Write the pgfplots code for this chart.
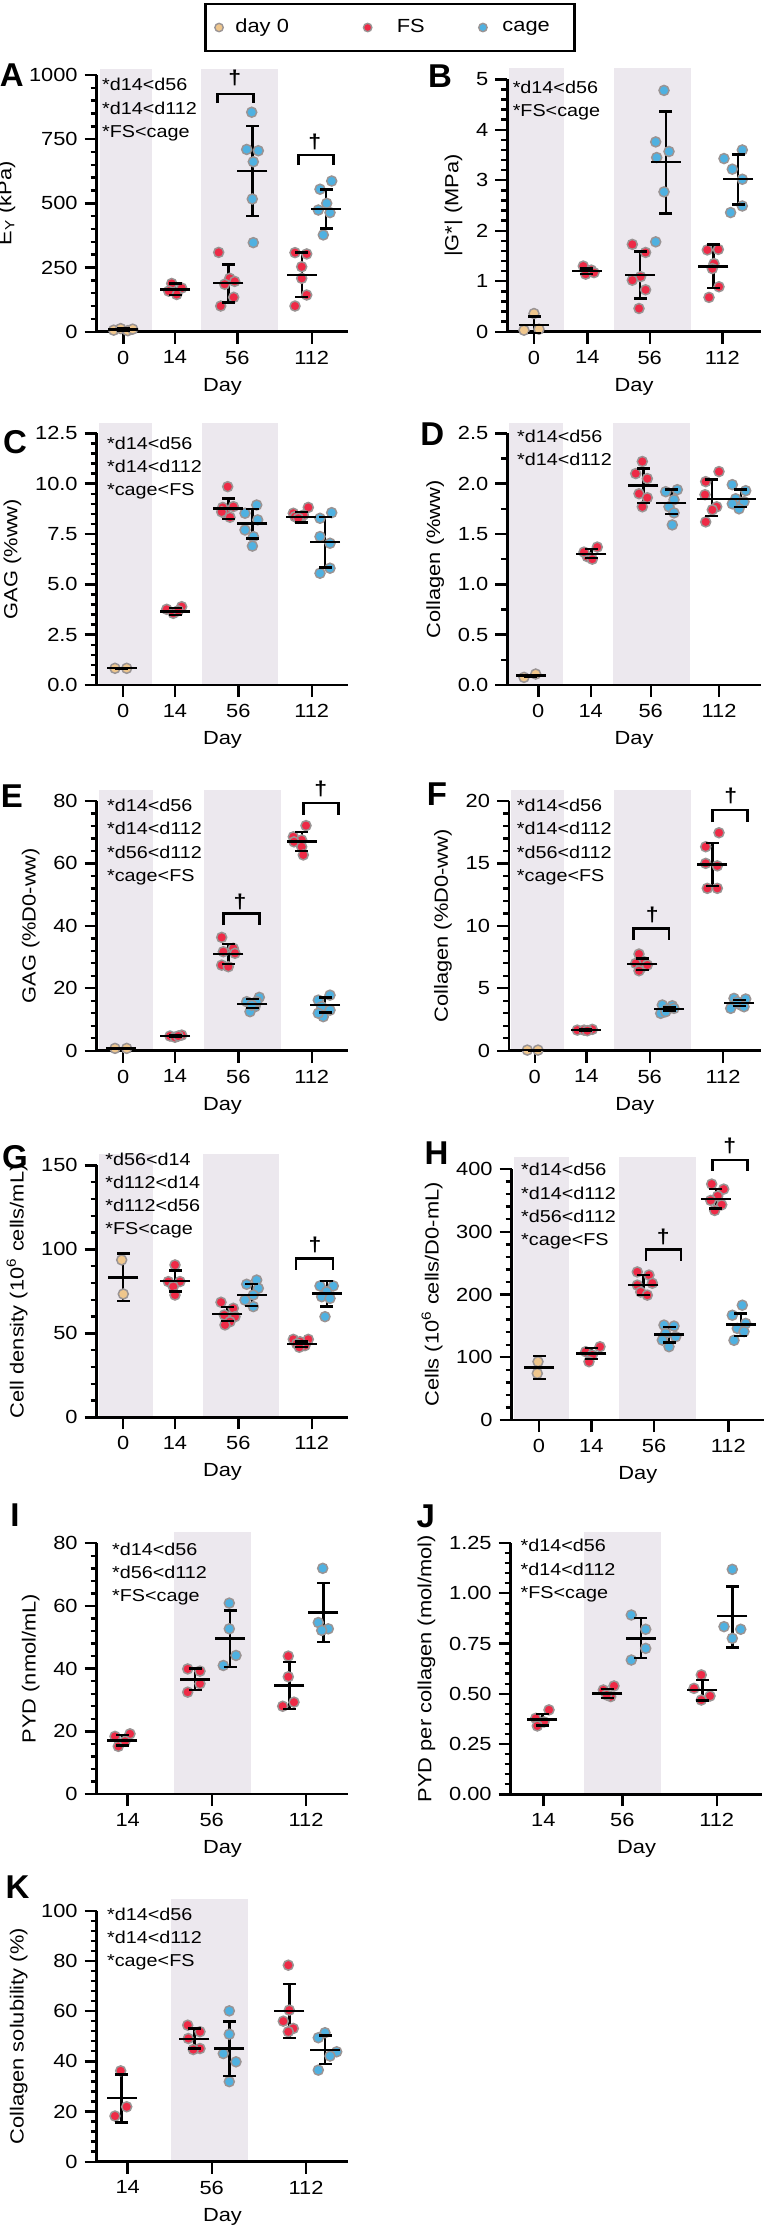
\documentclass[border=0pt]{standalone}
\usepackage{fontspec}
\setmainfont{Liberation Sans}[FakeStretch=1.15]
\newfontfamily\letterfont{Liberation Sans}
\usepackage{pgfplots}
\usepackage{pgfplotstable}
\pgfplotsset{compat=1.18}
\definecolor{cZero}{HTML}{EFC68C}
\definecolor{cFS}{HTML}{EE2A46}
\definecolor{cCage}{HTML}{4FB1E1}
\definecolor{cRing}{HTML}{9A9494}
\definecolor{cBand}{HTML}{ECE8EE}
\newcommand{\annfont}{\fontsize{8.6}{11.6}\selectfont}
\newcommand{\tickfont}{\fontsize{9.5}{11}\selectfont}
\newcommand{\ltrfont}{\letterfont\bfseries\fontsize{16.5}{17}\selectfont}
\pgfplotsset{
  panel/.style={
    scale only axis, clip=false,
    axis lines=left, axis line style={-, line width=1.3pt},
    tick align=outside,
    tick style={line width=1.2pt, black},
    major tick length=6pt, minor tick length=3pt,
    minor x tick num=0, minor y tick num=4,
    xmin=0, ymin=0, enlargelimits=false,
    tick label style={font=\tickfont},
    label style={font=\tickfont},
    xlabel={Day},
    anchor=south west,
  },
  pt/.style={only marks, mark=*, mark size=2.5pt, mark options={draw=cRing, line width=0.75pt, fill=#1}, forget plot},
  meanl/.style={only marks, mark=-, mark size=7.5pt, mark options={line width=1.2pt, draw=black}, forget plot},
  capl/.style={only marks, mark=-, mark size=3.25pt, mark options={line width=1.2pt, draw=black}, forget plot},
  whisk/.style={draw=none, no markers, forget plot, error bars/y dir=both, error bars/y explicit, error bars/error mark=none, error bars/error bar style={draw=black, solid, line width=1.2pt}},
  legimg/.style={only marks, mark=*, mark size=2.1pt, mark options={draw=cRing, line width=0.7pt, fill=#1}, legend image code/.code={\draw[mark repeat=2,mark phase=2,##1] plot coordinates {(0pt,0pt) (4pt,0pt) (8pt,0pt)};}},
}
\newcommand{\stats}[1]{%
  \addplot[whisk] table[x=x,y=m,y error plus expr=\thisrow{hi}-\thisrow{m},y error minus expr=\thisrow{m}-\thisrow{lo}] {#1};
  \addplot[meanl] table[x=x,y=m] {#1};
  \addplot[capl] table[x=x,y=hi] {#1};
  \addplot[capl] table[x=x,y=lo] {#1};
}
\newcommand{\band}[3]{\fill[cBand] ([yshift=0.7pt]axis cs:#1,0) rectangle (axis cs:#2,#3);}
\newcommand{\brk}[6]{\draw[line width=1.2pt] (axis cs:#1,#4) -- (axis cs:#1,#3) -- (axis cs:#2,#3) -- (axis cs:#2,#4);
  \node[font=\bfseries\fontsize{10}{10}\selectfont] at (axis cs:#5,#6) {†};}
\newcommand{\ann}[3]{\node[anchor=north west, inner sep=0pt, align=left, font=\annfont] at (axis description cs:#1,#2) {#3};}

\pgfplotstableread[row sep=\\]{x m lo hi\\ 26.6 8 3 13\\ 78.3 165 143 188\\ 131.7 190 114 262\\ 155.7 626 451 801\\ 205 221 136 308\\ 229.3 478 402 554\\}\sA
\pgfplotstableread[row sep=\\]{x m lo hi\\ 26.7 0.13 -0.02 0.30\\ 79.4 1.20 1.14 1.25\\ 132.7 1.12 0.655 1.585\\ 158.4 3.36 2.34 4.36\\ 206 1.29 0.87 1.73\\ 230.7 3.02 2.52 3.51\\}\sB
\pgfplotstableread[row sep=\\]{x m lo hi\\ 25 0.83 0.82 0.84\\ 78.3 3.66 3.48 3.82\\ 131.7 8.77 8.25 9.27\\ 155.7 8.03 7.28 8.74\\ 204.3 8.33 8.08 8.58\\ 228.3 7.09 5.84 8.33\\}\sC
\pgfplotstableread[row sep=\\]{x m lo hi\\ 23.4 0.093 0.085 0.10\\ 84 1.30 1.26 1.35\\ 136 1.98 1.81 2.15\\ 164 1.81 1.70 1.94\\ 204.4 1.85 1.68 2.04\\ 233.4 1.85 1.77 1.94\\}\sD
\pgfplotstableread[row sep=\\]{x m lo hi\\ 24 0.75 0.7 0.8\\ 78.3 4.7 4.5 4.9\\ 131.7 31.0 27.8 34.2\\ 155.7 14.9 13.6 16.5\\ 205 67.0 63.9 70.1\\ 228.3 14.6 12.3 17.1\\}\sE
\pgfplotstableread[row sep=\\]{x m lo hi\\ 25.7 0.05 0.03 0.07\\ 76.7 1.66 1.62 1.70\\ 133.3 6.94 6.46 7.39\\ 160 3.34 3.18 3.50\\ 203.3 14.92 13.2 16.65\\ 230 3.84 3.6 4.06\\}\sF
\pgfplotstableread[row sep=\\]{x m lo hi\\ 26.6 83.3 69.4 97.6\\ 78.3 81.2 74.8 87.3\\ 130.6 61.5 57.5 65.5\\ 155 72.8 66.3 79.4\\ 205 43.7 42.0 45.2\\ 230 73.8 65.9 81.3\\}\sG
\pgfplotstableread[row sep=\\]{x m lo hi\\ 27.3 83.9 65.3 101.9\\ 79.6 106.2 97.2 115.2\\ 131.6 215 199 231\\ 157.3 136.5 123.7 148.7\\ 204 352 337 368\\ 229 152.4 134 170\\}\sH
\pgfplotstableread[row sep=\\]{x m lo hi\\ 25.6 17.1 15.5 18.9\\ 98.3 36.5 33.1 40.0\\ 133.3 49.6 40.6 58.6\\ 192.6 34.6 27.1 42.1\\ 226.6 57.9 48.5 67.3\\}\sI
\pgfplotstableread[row sep=\\]{x m lo hi\\ 31.6 0.373 0.342 0.40\\ 96.6 0.502 0.478 0.524\\ 130 0.776 0.677 0.876\\ 191.6 0.519 0.466 0.569\\ 221.6 0.887 0.731 1.033\\}\sJ
\pgfplotstableread[row sep=\\]{x m lo hi\\ 25 25.5 15.7 34.8\\ 97.6 49.0 45.1 53.1\\ 132.6 45.1 34.2 55.8\\ 192.6 60.0 49.4 70.8\\ 228.3 44.5 38.9 50.3\\}\sK

\begin{document}
\begin{tikzpicture}
\useasboundingbox (0pt,0pt) rectangle (384pt,-1116pt);

% ---------------- A
\begin{axis}[panel, at={(48.35pt,-165.85pt)}, width=125.8pt, height=128.35pt, xmax=251.6, ymax=1000,
  xtick={26.6,78.3,140.6,215}, xticklabels={0,14,56,112},
  ytick={0,250,500,750,1000}, yticklabels={0,250,500,750,1000},
  ylabel={E\textsubscript{Y} (kPa)},
  legend columns=3,
  legend style={at={(axis description cs:1.1657,1.185)}, anchor=center, draw=black, line width=1.2pt, font=\tickfont,
    inner xsep=4.7pt, inner ysep=5.5pt,
    nodes={text width=39pt, align=center, inner xsep=0pt, inner ysep=2pt},
    /tikz/column 2/.style={column sep=31.1pt}, /tikz/column 4/.style={column sep=14.45pt}}]
\band{3.3}{55}{1023}
\band{104.3}{181.6}{1023}
\brk{120.6}{156.6}{926}{890}{138}{987}
\brk{201.6}{236.6}{688}{649}{218}{740}
\ann{0.02}{0.988}{*d14<d56\\*d14<d112\\*FS<cage}
\addplot[pt=cZero] coordinates {(17,6) (24,12) (31,4) (36,10)};
\addplot[pt=cFS] coordinates {(75,188) (85,170) (80,145) (72,158) (122,309) (133,208) (138,196) (137,134) (124,100) (128,185) (198.3,308) (210,303) (205,253) (205,208) (210,143) (198.3,100)};
\addplot[pt=cCage] coordinates {(155,855) (150,710) (161.6,705) (156.6,662) (155.6,517) (156.6,347) (235,587) (223.3,555) (230,500) (221.6,474) (233.3,464) (226.6,377)};
\stats{\sA}
\addlegendimage{legimg=cZero}
\addlegendimage{legimg=cFS}
\addlegendimage{legimg=cCage}
\legend{day 0, FS, cage}
\end{axis}

% ---------------- B
\begin{axis}[panel, at={(253.65pt,-165.85pt)}, width=126.7pt, height=126.2pt, xmax=253.4, ymax=5,
  xtick={26.7,80,142.4,215}, xticklabels={0,14,56,112},
  ytick={0,1,2,3,4,5}, yticklabels={0,1,2,3,4,5},
  ylabel={|G*| (MPa)}]
\band{2}{56.7}{5.22}
\band{106.7}{183.4}{5.22}
\ann{0.02}{0.996}{*d14<d56\\*FS<cage}
\addplot[pt=cZero] coordinates {(26.7,0.36) (16.7,0.03) (31.7,0.05)};
\addplot[pt=cFS] coordinates {(76,1.30) (84,1.22) (78.4,1.14) (86.7,1.17) (125,1.73) (138.3,1.57) (133.3,1.09) (125,1.02) (138.3,0.83) (131.7,0.46) (200,1.62) (211,1.63) (206.7,1.35) (211.7,0.89) (201.7,0.68) (205,1.25)};
\addplot[pt=cCage] coordinates {(156.7,4.78) (148.4,3.76) (161.7,3.57) (149.4,3.45) (156.7,2.77) (148.4,1.78) (235,3.60) (216.7,3.43) (225,3.22) (235,3.02) (223.3,2.36) (235,2.49)};
\stats{\sB}
\end{axis}

% ---------------- C
\begin{axis}[panel, at={(48.35pt,-342.5pt)}, width=125.8pt, height=125.85pt, xmax=251.6, ymax=12.5,
  xtick={26.6,78.3,141.6,215}, xticklabels={0,14,56,112},
  ytick={0,2.5,5,7.5,10,12.5}, yticklabels={0.0,2.5,5.0,7.5,10.0,12.5},
  ylabel={GAG (\%ww)}]
\band{2}{55}{13.03}
\band{105}{181.6}{13.03}
\ann{0.04}{0.988}{*d14<d56\\*d14<d112\\*cage<FS}
\addplot[pt=cZero] coordinates {(18.3,0.83) (30,0.83)};
\addplot[pt=cFS] coordinates {(70,3.76) (85,3.89) (76.6,3.56) (81.6,3.69) (131,9.85) (126,8.82) (136.7,8.86) (128.3,8.53) (133.3,8.33) (125,8.6) (196.6,8.53) (211.6,8.82) (205,8.36) (198.3,8.36) (206.7,8.44) (201.6,8.28)};
\addplot[pt=cCage] coordinates {(160,8.94) (148.3,8.53) (161,8.2) (148.3,7.7) (156.7,7.37) (155.7,6.9) (235,8.56) (223.3,8.28) (223.3,7.37) (233.3,7.04) (233.3,5.8) (223.3,5.55)};
\stats{\sC}
\end{axis}

% ---------------- D
\begin{axis}[panel, at={(253.65pt,-342.5pt)}, width=126.7pt, height=125.85pt, xmax=253.4, ymax=2.5,
  xtick={31,83.4,143.4,211.7}, xticklabels={0,14,56,112},
  ytick={0,0.5,1,1.5,2,2.5}, yticklabels={0.0,0.5,1.0,1.5,2.0,2.5}, minor y tick num=1,
  ylabel={Collagen (\%ww)}]
\band{2}{55.7}{2.605}
\band{106}{182.7}{2.605}
\ann{0.037}{1.016}{*d14<d56\\*d14<d112}
\addplot[pt=cZero] coordinates {(16.7,0.076) (28.4,0.109)};
\addplot[pt=cFS] coordinates {(80,1.275) (90,1.37) (76.7,1.32) (85,1.25) (135,2.22) (128.4,2.10) (140,2.05) (131.7,1.90) (140,1.86) (135,1.77) (211.7,2.12) (198.4,2.02) (197.7,1.89) (209.4,1.77) (205,1.74) (198.4,1.62)};
\addplot[pt=cCage] coordinates {(170,1.94) (158.4,1.92) (166.7,1.84) (161.7,1.77) (166.7,1.71) (165,1.59) (225,1.99) (238.4,1.93) (228.4,1.85) (236.7,1.82) (231.7,1.75) (225,1.80)};
\stats{\sD}
\end{axis}

% ---------------- E
\begin{axis}[panel, at={(48.35pt,-525.35pt)}, width=125.8pt, height=124.9pt, xmax=251.6, ymax=80,
  xtick={26.6,78.3,141.6,215}, xticklabels={0,14,56,112},
  ytick={0,20,40,60,80}, yticklabels={0,20,40,60,80},
  ylabel={GAG (\%D0-ww)}]
\band{2}{56.6}{83.4}
\band{107.3}{184}{83.4}
\brk{126.6}{162.6}{44}{40.2}{143.3}{47.7}
\brk{206.6}{241.6}{79.4}{75.5}{224}{84}
\ann{0.04}{1.008}{*d14<d56\\*d14<d112\\*d56<d112\\*cage<FS}
\addplot[pt=cZero] coordinates {(18.3,0.75) (30,0.75)};
\addplot[pt=cFS] coordinates {(73.3,4.7) (85,5.0) (78.3,4.3) (81.6,4.7) (125,36.3) (136.6,32.8) (126.6,31.7) (138.3,31.2) (125,27.4) (131.6,26.9) (209.3,72.1) (196.6,68.5) (205,67.5) (197.3,66.9) (205,65.3) (206.6,62.7)};
\addplot[pt=cCage] coordinates {(162.6,17.1) (150,15.7) (158.3,14.1) (153.3,12.5) (160,15.7) (155,14.6) (233.3,17.8) (221.6,16.2) (225,14.1) (233.3,13.0) (226.6,10.9) (221.6,12.0)};
\stats{\sE}
\end{axis}

% ---------------- F
\begin{axis}[panel, at={(254.5pt,-525.35pt)}, width=125.85pt, height=124.9pt, xmax=251.7, ymax=20,
  xtick={25.7,77.3,140.7,214}, xticklabels={0,14,56,112},
  ytick={0,5,10,15,20}, yticklabels={0,5,10,15,20},
  ylabel={Collagen (\%D0-ww)}]
\band{2}{55}{20.84}
\band{105}{181.7}{20.84}
\brk{124.3}{160}{9.8}{8.86}{143.3}{10.86}
\brk{203.3}{238.3}{19.27}{18.3}{221.7}{20.4}
\ann{0.03}{1.008}{*d14<d56\\*d14<d112\\*d56<d112\\*cage<FS}
\addplot[pt=cZero] coordinates {(18.3,0.05) (29,0.05)};
\addplot[pt=cFS] coordinates {(68.3,1.65) (75,1.65) (83.3,1.71) (78.3,1.6) (130,7.74) (135,7.13) (126.7,6.99) (131.7,6.6) (138.3,6.86) (130,6.4) (210,17.45) (196.7,16.33) (196.7,15.0) (208.3,14.8) (198.3,13.0) (208.3,13.0)};
\addplot[pt=cCage] coordinates {(153.3,3.66) (163.3,3.6) (158.3,3.31) (151.7,2.99) (156.7,3.12) (165,3.39) (225,4.19) (236.7,4.14) (231.7,3.66) (221.7,3.39) (228.3,3.92) (235,3.52)};
\stats{\sF}
\end{axis}

% ---------------- G
\begin{axis}[panel, at={(48.35pt,-708.65pt)}, width=125.8pt, height=126pt, xmax=251.6, ymax=150,
  xtick={26.6,78.3,141.6,215}, xticklabels={0,14,56,112},
  ytick={0,50,100,150}, yticklabels={0,50,100,150},
  ylabel={Cell density (10\textsuperscript{6} cells/mL)}]
\band{2}{56}{156.7}
\band{106}{182.6}{156.7}
\brk{199.3}{236}{94.6}{87.7}{218.3}{102.6}
\ann{0.033}{1.052}{*d56<d14\\*d112<d14\\*d112<d56\\*FS<cage}
\addplot[pt=cZero] coordinates {(25,93.7) (26.6,73.4)};
\addplot[pt=cFS] coordinates {(78.3,90.7) (71.6,80.8) (83.3,80.8) (76.6,77.8) (78.3,72.8) (124.3,68.5) (136.6,64.9) (127.6,60.9) (138.3,59.9) (133.3,56.9) (128.3,55.0) (196.6,46.4) (211.6,46.4) (203.3,45.0) (200,43.7) (208.3,42.7) (202.6,41.7)};
\addplot[pt=cCage] coordinates {(160,81.7) (150,79.2) (161.6,76.8) (156.6,72.8) (148.3,69.8) (156.6,65.9) (236.6,78.2) (223.3,78.2) (230,74.8) (225,71.8) (233.3,70.8) (228.3,59.9)};
\stats{\sG}
\end{axis}

% ---------------- H
\begin{axis}[panel, at={(255.85pt,-710pt)}, width=126.15pt, height=125.5pt, xmax=252.3, ymax=400,
  xtick={27.3,79.6,142.3,216.6}, xticklabels={0,14,56,112},
  ytick={0,100,200,300,400}, yticklabels={0,100,200,300,400},
  ylabel={Cells (10\textsuperscript{6} cells/D0-mL)}]
\band{2}{57.3}{419.6}
\band{107.3}{184}{419.6}
\brk{134}{169}{271.9}{253.3}{151.6}{292}
\brk{200.6}{235.6}{414.3}{397}{218}{437}
\ann{0.036}{1.024}{*d14<d56\\*d14<d112\\*d56<d112\\*cage<FS}
\addplot[pt=cZero] coordinates {(26.3,92.9) (25.6,74.3)};
\addplot[pt=cFS] coordinates {(88.3,116.8) (74,108.9) (80.6,103.5) (77.3,92.9) (125.6,236) (137.3,231) (125.6,215) (140.6,218) (129,204) (135.6,199) (200,376) (212,368) (206,357) (199,350) (210,343) (203,334)};
\addplot[pt=cCage] coordinates {(152.3,151.3) (162.3,149.7) (154,138) (164,132.7) (150.6,127.4) (157.3,116.8) (230.6,183) (220.6,167) (234,154) (225.6,146) (232.3,141) (222.3,127)};
\stats{\sH}
\end{axis}

% ---------------- I
\begin{axis}[panel, at={(48.35pt,-897pt)}, width=125.8pt, height=125.4pt, xmax=251.6, ymax=80,
  xtick={31,115,209.3}, xticklabels={14,56,112},
  ytick={0,20,40,60,80}, yticklabels={0,20,40,60,80},
  ylabel={PYD (nmol/mL)}]
\band{77.3}{154}{83.7}
\ann{0.06}{1.004}{*d14<d56\\*d56<d112\\*FS<cage}
\addplot[pt=cFS] coordinates {(21.6,15.2) (33.3,19.2) (18.3,18.4) (28.3,16.8) (91,39.9) (103.3,39.2) (103.3,35.2) (91,32.5) (191.6,44.0) (191.6,37.4) (197.3,29.3) (186,28.0)};
\addplot[pt=cCage] coordinates {(132.6,60.9) (132.6,52.7) (139.3,44.2) (126.6,41.0) (226,72) (221.6,54.7) (231.6,52.7) (225,52.2)};
\stats{\sI}
\end{axis}

% ---------------- J
\begin{axis}[panel, at={(255.35pt,-897.15pt)}, width=125.8pt, height=125.65pt, xmax=251.6, ymax=1.25,
  xtick={32.6,111.6,206}, xticklabels={14,56,112},
  ytick={0,0.25,0.5,0.75,1,1.25}, yticklabels={0.00,0.25,0.50,0.75,1.00,1.25},
  ylabel={PYD per collagen (mol/mol)}]
\band{73.3}{150}{1.306}
\ann{0.038}{1.016}{*d14<d56\\*d14<d112\\*FS<cage}
\addplot[pt=cFS] coordinates {(38.3,0.42) (25,0.378) (33.3,0.36) (26.6,0.34) (103.3,0.539) (92.6,0.519) (100,0.486) (96,0.494) (190.6,0.594) (183.3,0.527) (199.3,0.489) (190.6,0.469)};
\addplot[pt=cCage] coordinates {(120.6,0.892) (135,0.821) (135,0.726) (120.6,0.668) (221.6,1.119) (213.3,0.834) (230,0.821) (221.6,0.776)};
\stats{\sJ}
\end{axis}

% ---------------- K
\begin{axis}[panel, at={(48.35pt,-1080.85pt)}, width=125.8pt, height=125.5pt, xmax=251.6, ymax=100,
  xtick={31,115,209.3}, xticklabels={14,56,112},
  ytick={0,20,40,60,80,100}, yticklabels={0,20,40,60,80,100},
  ylabel={Collagen solubility (\%)}]
\band{74.3}{151.6}{104.5}
\ann{0.04}{1.014}{*d14<d56\\*d14<d112\\*cage<FS}
\addplot[pt=cFS] coordinates {(24,36.2) (30,21.9) (18.3,18.2) (91,54.4) (103.3,51.8) (91.6,49.1) (103.3,45.1) (96.6,44.7) (191.6,78.3) (192.6,60.4) (186.6,56.0) (196.6,53.1) (191.6,51.8)};
\addplot[pt=cCage] coordinates {(132.6,60.1) (132.6,50.8) (126.6,43.1) (139.3,39.8) (132.6,31.9) (228.3,51.4) (221.6,49.4) (240,43.8) (233.3,42.1) (221.6,36.5)};
\stats{\sK}
\end{axis}

% panel letters
\node[font=\ltrfont] at (5.85pt,-37.5pt) {A};
\node[font=\ltrfont] at (220pt,-37.9pt) {B};
\node[font=\ltrfont] at (7.5pt,-221.25pt) {C};
\node[font=\ltrfont] at (216.15pt,-217.1pt) {D};
\node[font=\ltrfont] at (6pt,-398.25pt) {E};
\node[font=\ltrfont] at (218.5pt,-397pt) {F};
\node[font=\ltrfont] at (7.5pt,-578.75pt) {G};
\node[font=\ltrfont] at (218.25pt,-576.65pt) {H};
\node[font=\ltrfont] at (7.5pt,-757.5pt) {I};
\node[font=\ltrfont] at (212.85pt,-758.35pt) {J};
\node[font=\ltrfont] at (8.75pt,-943.75pt) {K};
\end{tikzpicture}
\end{document}
